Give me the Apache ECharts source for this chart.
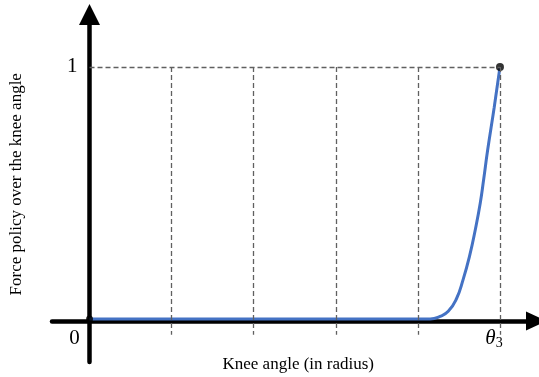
<!DOCTYPE html>
<html>
<head>
<meta charset="utf-8">
<script src="https://cdn.jsdelivr.net/npm/echarts@6/dist/echarts.min.js"></script>
<style>
  html, body { margin: 0; padding: 0; background: #fff; }
  #chart { width: 539px; height: 377px; }
</style>
</head>
<body>
<div id="chart"></div>
<script>
// Knee angle in grid steps (theta_3 sits on step 5) and the force policy (0..1)
const kneeAngle   = [0, 4.15, 4.27, 4.37, 4.47, 4.55, 4.63, 4.70, 4.76, 4.80, 4.85, 4.93, 5];
const forcePolicy = [0, 0,    0.01, 0.03, 0.08, 0.155, 0.25, 0.355, 0.46, 0.55, 0.67, 0.84, 1];

// Dashed guide lines: verticals at each step, horizontal at full force
const guideSteps = [1, 2, 3, 4, 5];
const guideLevel = 1;

// Marked end points of the policy curve
const endPoints = [[0, 0], [5, 1]];

// Tick labels
const xTickValues = [0, 5];
const xTickLabels = ['{z|0}', '{t|θ}{s|3}'];
const yTickValues = [1];
const yTickLabels = ['1'];

const serif = 'Liberation Serif, Times New Roman, serif';
const guideBottom = -0.063;

const curve = kneeAngle.map((x, i) => [x, forcePolicy[i]]);
const guides = guideSteps.map(x => [{ coord: [x, guideLevel] }, { coord: [x, guideBottom] }]);
guides.push([{ coord: [0, guideLevel] }, { coord: [guideSteps[guideSteps.length - 1], guideLevel] }]);

const chart = echarts.init(document.getElementById('chart'), null, { renderer: 'canvas' });
chart.setOption({
  animation: false,
  backgroundColor: '#fff',
  grid: { left: 52, right: 2.5, top: 14.5, bottom: 15, containLabel: false, outerBoundsMode: 'none' },
  xAxis: {
    type: 'value',
    min: -0.457,
    max: 5.445,
    position: 'bottom',
    offset: -41,
    z: 1,
    axisLine: {
      onZero: false,
      symbol: ['none', 'triangle'],
      symbolSize: [19, 21],
      lineStyle: { color: '#000', width: 4.5 }
    },
    axisTick: { show: false },
    splitLine: { show: false },
    axisLabel: {
      customValues: xTickValues,
      margin: 5,
      color: '#000',
      formatter: v => xTickLabels[xTickValues.indexOf(v)],
      rich: {
        z: { fontFamily: serif, fontSize: 21, color: '#000', padding: [0, 30, 0, 0], lineHeight: 24 },
        t: { fontFamily: serif, fontStyle: 'italic', fontSize: 21, color: '#000', lineHeight: 24 },
        s: { fontFamily: serif, fontSize: 14, color: '#000', verticalAlign: 'bottom', lineHeight: 14, padding: [0, 12, 0, 0] }
      }
    },
    name: 'Knee angle (in radius)',
    nameLocation: 'middle',
    nameGap: 35,
    nameMoveOverlap: false,
    nameTextStyle: { fontFamily: serif, fontSize: 17, color: '#000', padding: [0, 0, 0, 8] }
  },
  yAxis: {
    type: 'value',
    min: -0.171,
    max: 1.208,
    z: 1,
    axisLine: {
      onZero: true,
      symbol: ['none', 'triangle'],
      symbolSize: [21, 21],
      lineStyle: { color: '#000', width: 4.5 }
    },
    axisTick: { show: false },
    splitLine: { show: false },
    axisLabel: {
      customValues: yTickValues,
      margin: -25.5,
      fontFamily: serif,
      fontSize: 21,
      color: '#000',
      formatter: v => yTickLabels[yTickValues.indexOf(v)]
    },
    name: 'Force policy over the knee angle',
    nameLocation: 'middle',
    nameGap: 26.5,
    nameMoveOverlap: false,
    nameTextStyle: { fontFamily: serif, fontSize: 17, color: '#000', padding: [0, 0, 0, 8] }
  },
  series: [
    {
      name: 'guides',
      type: 'line',
      data: [],
      z: 0,
      silent: true,
      markLine: {
        silent: true,
        symbol: ['none', 'none'],
        label: { show: false },
        lineStyle: { type: [5, 3], color: '#606060', width: 1.3 },
        data: guides
      }
    },
    {
      name: 'Force policy',
      type: 'line',
      data: curve,
      z: 2,
      smooth: 0.5,
      showSymbol: false,
      lineStyle: { color: '#4472C4', width: 3 }
    },
    {
      name: 'end points',
      type: 'scatter',
      data: endPoints,
      z: 3,
      symbolSize: (v, p) => (p.dataIndex === 0 ? 7 : 8),
      itemStyle: { color: '#000' }
    }
  ]
});
</script>
</body>
</html>
